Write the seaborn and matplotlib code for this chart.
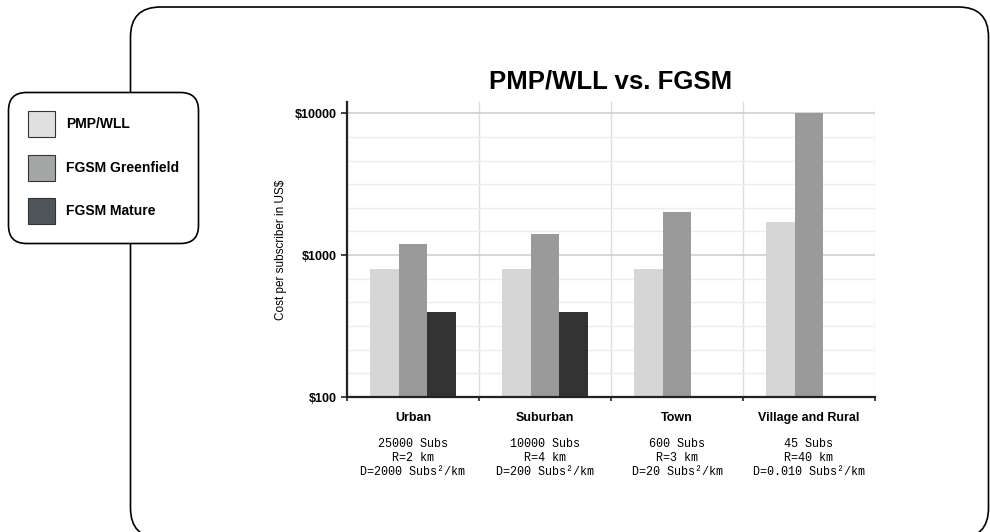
import matplotlib.pyplot as plt
import matplotlib.ticker as mticker
from matplotlib.patches import FancyBboxPatch, Rectangle
import numpy as np
import pandas as pd
import seaborn as sns

# data
categories = ["Urban", "Suburban", "Town", "Village and Rural"]
series = ["PMP/WLL", "FGSM Greenfield", "FGSM Mature"]
pmp_wll = [800, 800, 800, 1700]
fgsm_greenfield = [1200, 1400, 2000, 10000]
fgsm_mature = [400, 400, np.nan, np.nan]

subs_lines = ["25000 Subs", "10000 Subs", "600 Subs", "45 Subs"]
radius_lines = ["R=2 km", "R=4 km", "R=3 km", "R=40 km"]
density_lines = ["D=2000 Subs²/km", "D=200 Subs²/km", "D=20 Subs²/km", "D=0.010 Subs²/km"]

bar_colors = ["#d6d6d6", "#9a9a9a", "#333333"]
legend_colors = ["#e0e0e0", "#a5a7a7", "#4f555b"]

df = pd.DataFrame({
    "category": categories * 3,
    "series": [s for s in series for _ in categories],
    "cost": pmp_wll + fgsm_greenfield + fgsm_mature,
})

sns.set_style("white")
plt.rcParams["font.family"] = ["Liberation Sans", "DejaVu Sans"]
plt.rcParams.update({"text.color": "black", "axes.labelcolor": "black",
                     "xtick.color": "black", "ytick.color": "black"})

fig = plt.figure(figsize=(9.9, 5.32), dpi=100)

# background layer in pixel coordinates: outer frame + legend box
bg = fig.add_axes([0, 0, 1, 1], zorder=0)
bg.set_xlim(0, 990)
bg.set_ylim(532, 0)
bg.axis("off")
bg.add_patch(FancyBboxPatch((130.5, 7), 858, 531, boxstyle="round,pad=0,rounding_size=30",
                            facecolor="white", edgecolor="black", lw=1.2, zorder=1))
bg.add_patch(FancyBboxPatch((8.5, 92.5), 190, 151, boxstyle="round,pad=0,rounding_size=18",
                            facecolor="white", edgecolor="black", lw=1.2, zorder=2))
for i, (name, col) in enumerate(zip(series, legend_colors)):
    yc = 124 + i * 43.5
    bg.add_patch(Rectangle((28, yc - 13), 27, 26, facecolor=col, edgecolor="#333333", lw=0.8, zorder=3))
    bg.text(66, yc, name, fontsize=10, fontweight="bold", va="center", ha="left", zorder=3)

ax = fig.add_axes([347 / 990, 135 / 532, 528 / 990, 295 / 532], zorder=2)
sns.barplot(data=df, x="category", y="cost", hue="series", hue_order=series,
            order=categories, palette=bar_colors, width=0.65, edgecolor="none",
            linewidth=0, legend=False, ax=ax)

ax.set_yscale("log")
ax.set_ylim(100, 12000)
ax.set_xlim(-0.5, 3.5)

ax.yaxis.set_major_locator(mticker.FixedLocator([100, 1000, 10000]))
ax.yaxis.set_major_formatter(mticker.FuncFormatter(lambda v, p: f"${v:.0f}"))
minor_y = [10 ** (2 + k / 6) for k in range(1, 13) if k % 6]
ax.yaxis.set_minor_locator(mticker.FixedLocator(minor_y))
ax.yaxis.set_minor_formatter(mticker.NullFormatter())

ax.xaxis.set_minor_locator(mticker.FixedLocator([-0.5, 0.5, 1.5, 2.5, 3.5]))

ax.grid(which="major", axis="y", color="#cfcfcf", lw=1.2)
ax.grid(which="minor", axis="y", color="#ececec", lw=1)
ax.grid(which="minor", axis="x", color="#dcdcdc", lw=1)
ax.grid(which="major", axis="x", visible=False)
ax.set_axisbelow(True)

for side in ["top", "right"]:
    ax.spines[side].set_visible(False)
for side in ["left", "bottom"]:
    ax.spines[side].set_color("#222222")
    ax.spines[side].set_linewidth(1.6)

ax.tick_params(axis="y", which="major", direction="out", length=4, width=1.2,
               color="#222222", labelsize=9, pad=3, left=True)
ax.tick_params(axis="y", which="minor", length=0)
ax.tick_params(axis="x", which="major", length=0, labelsize=9, pad=11)
ax.tick_params(axis="x", which="minor", direction="out", length=3, width=1.2,
               color="#222222", bottom=True)
for lab in ax.get_yticklabels() + ax.get_xticklabels():
    lab.set_fontweight("bold")

ax.set_xlabel("")
ax.set_ylabel("Cost per subscriber in US$", fontsize=8.5, labelpad=6)
ax.set_title("PMP/WLL vs. FGSM", fontsize=18.5, fontweight="bold", pad=10)

for i in range(len(categories)):
    for j, line in enumerate([subs_lines[i], radius_lines[i], density_lines[i]]):
        ax.text(i, -0.159 - j * 0.0475, line, transform=ax.get_xaxis_transform(),
                ha="center", va="center", fontsize=8.5,
                family=["Liberation Mono", "DejaVu Sans Mono"])

fig.savefig("out.png", dpi=100)
